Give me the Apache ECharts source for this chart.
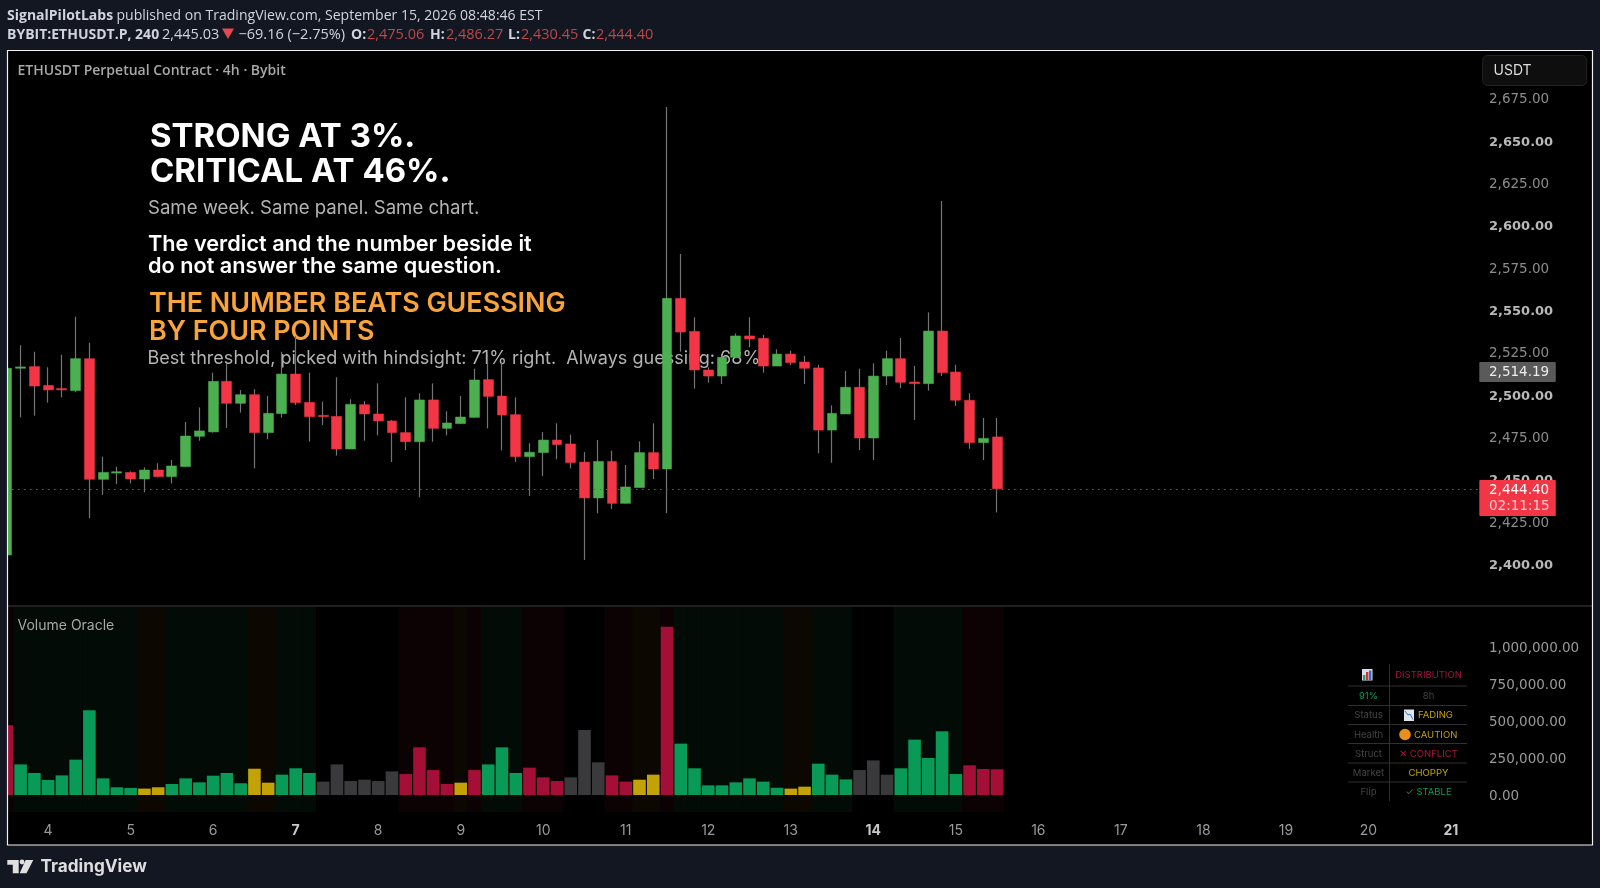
<!DOCTYPE html>
<html><head><meta charset="utf-8">
<style>html,body{margin:0;padding:0;background:#131722;overflow:hidden}#c{width:1600px;height:888px}</style>
<script src="https://cdn.jsdelivr.net/npm/echarts@6/dist/echarts.min.js"></script>
</head><body><div id="c"></div>
<script>
// ---- data ----
const opens=[2405.3,2515.6,2516.6,2505.5,2503.6,2502.4,2521.3,2450.0,2453.7,2454.1,2450.2,2455.5,2451.6,2457.5,2475.4,2478.0,2507.9,2494.9,2500.0,2477.6,2488.8,2512.2,2495.5,2487.8,2487.2,2467.9,2494.1,2488.6,2484.5,2477.6,2472.2,2496.9,2480.1,2482.9,2486.6,2508.9,2499.2,2488.2,2463.4,2465.8,2473.2,2470.9,2460.2,2439.0,2460.6,2435.8,2445.1,2465.8,2456.1,2556.9,2537.4,2514.6,2511.0,2522.1,2534.7,2533.3,2516.9,2524.0,2519.3,2515.8,2479.1,2488.6,2504.4,2474.4,2511.0,2521.3,2507.5,2506.5,2537.6,2513.4,2496.7,2471.7,2475.06];
const closes=[2515.6,2516.4,2505.1,2502.8,2502.8,2521.3,2450.0,2454.1,2454.5,2450.2,2455.5,2451.6,2457.9,2475.6,2478.6,2507.9,2494.9,2500.0,2477.6,2489.0,2512.2,2495.3,2487.0,2487.0,2467.9,2494.3,2488.6,2484.5,2477.6,2472.2,2496.9,2480.1,2483.3,2486.8,2508.7,2499.0,2488.0,2463.4,2466.0,2473.2,2470.5,2459.9,2439.0,2460.6,2435.8,2445.5,2465.8,2456.1,2556.9,2537.0,2514.6,2511.0,2522.1,2534.7,2532.9,2516.9,2524.0,2518.9,2515.6,2479.1,2489.0,2504.4,2474.4,2511.0,2521.3,2507.3,2506.5,2537.6,2513.0,2496.7,2471.7,2474.2,2444.40];
const highs=[2520.0,2529.2,2525.4,2516.2,2523.6,2546.1,2530.7,2463.4,2457.5,2454.7,2457.1,2459.5,2461.4,2483.9,2492.5,2513.0,2518.5,2502.8,2503.2,2499.2,2525.4,2534.7,2513.0,2495.9,2510.3,2497.3,2496.3,2506.7,2485.0,2498.4,2500.8,2506.7,2490.2,2499.2,2515.4,2524.4,2519.5,2498.4,2471.3,2478.0,2483.1,2476.4,2466.1,2473.2,2466.9,2458.5,2472.4,2483.1,2669.9,2583.1,2545.7,2516.2,2522.5,2536.2,2545.7,2535.3,2526.8,2526.0,2523.0,2517.7,2493.7,2514.0,2515.4,2518.5,2526.0,2533.5,2517.0,2548.6,2614.4,2517.7,2500.8,2486.2,2486.27];
const lows=[2403.0,2486.6,2487.6,2495.3,2498.4,2501.4,2427.0,2440.8,2447.3,2447.6,2442.3,2451.2,2447.5,2457.5,2472.8,2477.6,2480.3,2489.4,2456.5,2473.6,2486.4,2493.9,2472.3,2482.1,2464.0,2467.9,2472.8,2476.0,2460.2,2467.3,2439.4,2472.2,2476.0,2482.9,2486.6,2480.1,2467.1,2460.2,2440.2,2452.0,2461.8,2456.5,2402.4,2429.9,2432.5,2435.8,2445.1,2450.2,2429.9,2525.4,2503.6,2507.1,2506.3,2522.1,2528.0,2513.0,2516.9,2517.3,2506.3,2465.4,2459.8,2488.6,2467.3,2461.4,2505.7,2503.8,2485.0,2502.4,2511.0,2493.3,2468.1,2461.4,2430.45];
const volumes=[469000,206000,148000,101000,132000,238000,570000,112000,52000,47000,43000,52000,74000,112000,85000,130000,148000,79000,177000,83000,137000,180000,148000,90000,206000,94000,103000,94000,159000,141000,321000,168000,74000,83000,168000,206000,321000,148000,184000,119000,94000,119000,438000,220000,132000,90000,103000,137000,1133000,346000,180000,65000,65000,85000,112000,90000,49000,43000,56000,211000,137000,105000,168000,233000,137000,180000,373000,249000,429000,141000,200000,175000,173000];
const volumeStates=['R','G','G','G','G','G','G','G','G','G','Y','Y','G','G','G','G','G','G','Y','Y','G','G','G','N','N','N','N','N','N','R','R','R','R','Y','R','G','G','G','R','R','R','N','N','N','R','R','Y','Y','R','G','G','G','G','G','G','G','G','Y','Y','G','G','G','N','N','N','G','G','G','G','G','R','R','R'];
const dayTicks=['4','5','6','7','8','9','10','11','12','13','14','15','16','17','18','19','20','21'];
const boldDays=['7','14','21'];
const priceTicksBold=[2400,2450,2500,2550,2600,2650];
const volumeTicks=[0,250000,500000,750000,1000000];
const lastPrice=2444.40;

// ---- styles ----
const barColor={G:'#089a56',R:'#a30f36',Y:'#c2a206',N:'#3a3a3c'};
const bandColor={G:'#020b06',R:'#0c0204',Y:'#0c0801',N:'#000000'};
const UI='Inter, sans-serif', HD='"Open Sans", sans-serif', AX='"DejaVu Sans", sans-serif';
const SLOTS=108, STEP=13.756, GL=-0.34, GW=SLOTS*STEP;
const categories=[];
for(let i=0;i<SLOTS;i++){const k=i-3;categories.push(k>=0&&k%6===0?dayTicks[k/6]:'c'+i);}

const fmt=v=>v.toLocaleString('en-US',{minimumFractionDigits:2,maximumFractionDigits:2});
const wickData=opens.map((o,i)=>[o,closes[i],lows[i],highs[i]]);
const bodyData=opens.map((o,i)=>[o,closes[i],Math.min(o,closes[i]),Math.max(o,closes[i])]);

function T(x,y,text,o={}){return {type:'text',x,y,z:o.z??1,silent:true,style:{text,fill:o.c||'#fff',font:`${o.w||400} ${o.s||14}px ${o.f||UI}`,textAlign:o.a||'left',textVerticalAlign:'middle'}};}
function R(x,y,w,h,fill,z,extra={}){return {type:'rect',x:0,y:0,z,silent:true,shape:{x,y,width:w,height:h,r:extra.r||0},style:{fill,stroke:extra.stroke||null,lineWidth:extra.lw||0}};}
function L(x1,y1,x2,y2,c,z=20,lw=1){return {type:'line',z,silent:true,shape:{x1,y1,x2,y2},style:{stroke:c,lineWidth:lw}};}

const red='#b84a4a', hdr='#d1d4dc';
const tableLines=[686,705.5,724.5,743.5,763,782].map(y=>L(1348,y,1467,y,'#303030'));
const LC=1368.5, RC=1428.5, TS=9.5;
const tt=(x,y,t,c)=>T(x,y,t,{c,s:TS,a:'center',z:21});
const H2=35, H1=15.7, VS=14.5;
const graphics=[
  R(7.5,50.5,1585,794.5,'#000',-10),
  // overlay story
  T(150,137.5,'STRONG AT 3%.',{s:32.95,w:700}),
  T(150,172,'CRITICAL AT 46%.',{s:32.95,w:700}),
  T(148,208.5,'Same week. Same panel. Same chart.',{s:18.6,c:'#b4b4b4'}),
  T(148,244.5,'The verdict and the number beside it',{s:21.7,w:600}),
  T(148,266.5,'do not answer the same question.',{s:21.7,w:600}),
  T(149,303.5,'THE NUMBER BEATS GUESSING',{s:26.9,w:600,c:'#f9a43a'}),
  T(149,332,'BY FOUR POINTS',{s:26.9,w:600,c:'#f9a43a'}),
  T(147.5,359,'Best threshold, picked with hindsight: 71% right.  Always guessing: 68%.',{s:18.05,c:'#b4b4b4'}),
  T(17.5,71,'ETHUSDT Perpetual Contract · 4h · Bybit',{s:14,w:600,f:HD,c:'#a8a8a8',z:20}),
  T(17.5,626,'Volume Oracle',{s:14,c:'#a8a8a8',z:20}),
  // header
  {type:'text',x:7,y:H1,z:20,silent:true,style:{text:'{b|SignalPilotLabs} {n|published on TradingView.com, September 15, 2026 08:48:46 EST}',rich:{b:{font:`700 14px ${HD}`,fill:hdr},n:{font:`400 14.05px ${HD}`,fill:hdr}},textVerticalAlign:'middle'}},
  T(7,H2,'BYBIT:ETHUSDT.P, 240',{s:14,w:700,f:HD,c:hdr,z:20}),
  T(162,H2,'2,445.03',{s:VS,f:HD,c:hdr,z:20}),
  {type:'polygon',z:20,silent:true,shape:{points:[[222,28.5],[234,28.5],[228,39]]},style:{fill:'#e04a50'}},
  T(238.5,H2,'−69.16 (−2.75%)',{s:VS,f:HD,c:hdr,z:20}),
  T(351,H2,'O:',{s:14,w:700,f:HD,c:hdr,z:20}),T(367,H2,'2,475.06',{s:VS,f:HD,c:red,z:20}),
  T(430,H2,'H:',{s:14,w:700,f:HD,c:hdr,z:20}),T(446,H2,'2,486.27',{s:VS,f:HD,c:red,z:20}),
  T(508,H2,'L:',{s:14,w:700,f:HD,c:hdr,z:20}),T(521,H2,'2,430.45',{s:VS,f:HD,c:red,z:20}),
  T(582.5,H2,'C:',{s:14,w:700,f:HD,c:hdr,z:20}),T(596,H2,'2,444.40',{s:VS,f:HD,c:red,z:20}),
  // separator
  L(8,606,1592,606,'#2b2b2b',20,1.5),
  // USDT box
  R(1482.7,55.5,104,30,'#0e0e0e',20,{r:5,stroke:'#242424',lw:1}),
  T(1493.5,71,'USDT',{s:14,c:'#dcdcdc',z:21}),
  // price labels
  R(1479.3,362,76.5,20,'#5a5a5a',20,{r:1}),
  T(1489,372.5,'2,514.19',{s:13.5,f:AX,c:'#ececec',z:21}),
  R(1479.3,480,76.5,36,'#f23645',20,{r:1}),
  T(1489,490,'2,444.40',{s:13.5,f:AX,c:'#ffffff',z:21}),
  T(1489,506.5,'02:11:15',{s:13.5,f:AX,c:'#ffc9cd',z:21}),
  // table
  ...tableLines, L(1389.5,664,1389.5,801,'#303030'),
  tt(RC,675,'DISTRIBUTION','#a8143c'),
  tt(LC,696,'91%','#089a56'),tt(RC,696,'8h','#444'),
  tt(LC,715.5,'Status','#444'),T(1418,715.5,'FADING',{c:'#c2a206',s:TS,z:21}),
  tt(LC,734.7,'Health','#444'),T(1414,734.7,'CAUTION',{c:'#c2a206',s:TS,z:21}),
  tt(LC,754,'Struct','#444'),tt(RC,754,'✕ CONFLICT','#a8143c'),
  tt(LC,773,'Market','#444'),tt(RC,773,'CHOPPY','#c2a206'),
  tt(LC,792,'Flip','#444'),tt(RC,792,'✓ STABLE','#089a56'),
  // table icons
  R(1362,669,10.5,11.5,'#d8dee8',21),R(1363,675,2.4,5,'#1aa860',22),R(1366,672,2.4,8,'#d03040',22),R(1369,670.5,2.4,9.5,'#2a6fd0',22),
  R(1404,709.5,10,11.5,'#dfe6ee',21),{type:'polyline',z:22,silent:true,shape:{points:[[1405,711],[1408,715],[1410,714],[1413,719.5]]},style:{stroke:'#3878c8',lineWidth:1,fill:null}},
  {type:'circle',z:21,silent:true,shape:{cx:1405,cy:734.5,r:5.8},style:{fill:'#e8901c'}},
  // frame + mask
  R(0,50,7,796,'#131722',50),
  R(7.5,50.5,1585,794.5,null,51,{stroke:'#f0f0f0',lw:1.2}),
  // footer
  T(40.5,867,'TradingView',{s:17.2,w:700,f:UI,c:'#dedede',z:20}),
  {type:'polygon',z:20,silent:true,shape:{points:[[7.3,860],[18.7,860],[18.7,873.3],[12.8,873.3],[12.8,864.7],[7.3,864.7]]},style:{fill:'#e0e0e0'}},
  {type:'circle',z:20,silent:true,shape:{cx:22,cy:862,r:2.4},style:{fill:'#e0e0e0'}},
  {type:'polygon',z:20,silent:true,shape:{points:[[25.6,860],[33.3,860],[26.5,873.3],[19.7,873.3]]},style:{fill:'#e0e0e0'}}
];

const chart=echarts.init(document.getElementById('c'),null,{renderer:'canvas'});
chart.setOption({
  animation:false,backgroundColor:'#131722',
  tooltip:{show:false},
  graphic:{elements:graphics},
  grid:[
    {left:GL,width:GW,top:56.1,height:550.2},
    {left:GL,width:GW,top:607,height:205},
    {left:GL,width:GW,top:607,height:205}
  ],
  xAxis:[
    {type:'category',gridIndex:0,data:categories,axisLine:{show:false},axisTick:{show:false},axisLabel:{show:false},splitLine:{show:false}},
    {type:'category',gridIndex:1,data:categories,axisLine:{show:false},axisTick:{show:false},splitLine:{show:false},
     axisLabel:{interval:0,margin:12,hideOverlap:false,
       formatter:v=>dayTicks.includes(v)?(boldDays.includes(v)?`{b|${v}}`:`{n|${v}}`):'',
       rich:{n:{fontFamily:'Inter',fontSize:14,fontWeight:400,color:'#9a9a9a'},b:{fontFamily:'Inter',fontSize:14,fontWeight:700,color:'#c8c8c8'}}}},
    {type:'category',gridIndex:2,data:categories,show:false}
  ],
  yAxis:[
    {type:'value',gridIndex:0,position:'right',min:2375,max:2700,interval:25,scale:true,axisLine:{show:false},axisTick:{show:false},splitLine:{show:false},
     axisLabel:{margin:3.7,padding:[3,0,0,0],formatter:v=>(v<=2375||v>=2700)?'':(priceTicksBold.includes(v)?`{b|${fmt(v)}}`:`{n|${fmt(v)}}`),
       rich:{n:{fontFamily:'DejaVu Sans',fontSize:13.5,fontWeight:400,color:'#8c8c8c'},b:{fontFamily:'DejaVu Sans',fontSize:13,fontWeight:700,color:'#b8b8b8'}}}},
    {type:'value',gridIndex:1,position:'right',min:-114500,max:1266000,axisLine:{show:false},axisTick:{show:false},splitLine:{show:false},
     axisLabel:{margin:3.7,padding:[3,0,0,0],customValues:volumeTicks,formatter:v=>`{n|${fmt(v)}}`,
       rich:{n:{fontFamily:'DejaVu Sans',fontSize:13.5,fontWeight:400,color:'#9a9a9a'}}}},
    {type:'value',gridIndex:2,min:0,max:1,show:false}
  ],
  series:[
    {type:'bar',xAxisIndex:2,yAxisIndex:2,barWidth:14.3,z:0,silent:true,
     data:volumeStates.map(s=>({value:1,itemStyle:{color:bandColor[s]}}))},
    {type:'bar',xAxisIndex:1,yAxisIndex:1,barWidth:12.6,z:2,silent:true,
     data:volumes.map((v,i)=>({value:v,itemStyle:{color:barColor[volumeStates[i]]}}))},
    {type:'candlestick',name:'wick',xAxisIndex:0,yAxisIndex:0,barWidth:1,z:2,silent:true,
     itemStyle:{color:'#747474',color0:'#747474',borderColor:'#747474',borderColor0:'#747474',borderWidth:1.2},data:wickData,
     markLine:{silent:true,symbol:'none',label:{show:false},lineStyle:{color:'#c23a45',type:[1.5,4.5],width:1.2},data:[{yAxis:lastPrice}],animation:false}},
    {type:'candlestick',name:'body',xAxisIndex:0,yAxisIndex:0,barWidth:10.4,z:3,silent:true,
     itemStyle:{color:'#4caf50',color0:'#f23645',borderColor:'#4caf50',borderColor0:'#f23645',borderWidth:0.5},data:bodyData}
  ]
});
</script></body></html>
